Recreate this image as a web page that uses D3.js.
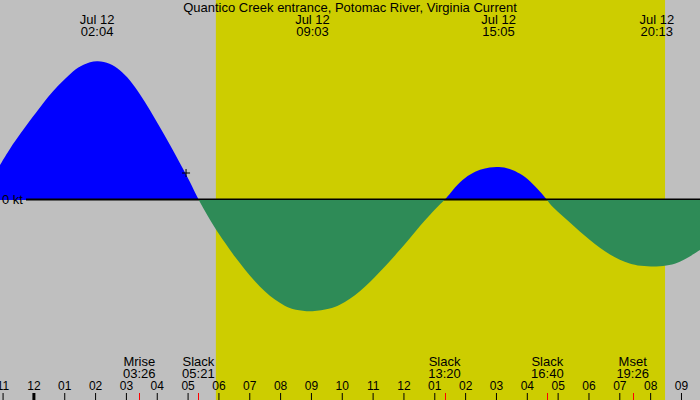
<!DOCTYPE html>
<html>
<head>
<meta charset="utf-8">
<script src="https://cdn.jsdelivr.net/npm/d3@7"></script>
<style>
  body { margin: 0; background: #fff; }
  svg text { font-family: "Liberation Sans", Arial, sans-serif; font-size: 13px; fill: #000; }
</style>
</head>
<body>
<div class="canvas"></div>
<script>
const dims = { width: 700, height: 400 };

const title = "Quantico Creek entrance, Potomac River, Virginia Current";

// window of the graph
const startTime = "07-11 22:55";
const endTime = "07-12 21:37";
const sunrise = "07-12 05:55";
const sunset = "07-12 20:29";

// current speed (kt, + flood / - ebb)
const times = [
  "07-11 22:55", "07-11 23:15", "07-11 23:34", "07-12 00:00", "07-12 00:19", "07-12 00:38",
  "07-12 00:58", "07-12 01:17", "07-12 01:36", "07-12 02:04", "07-12 02:29", "07-12 02:48",
  "07-12 03:08", "07-12 03:27", "07-12 03:47", "07-12 04:06", "07-12 04:26", "07-12 04:45",
  "07-12 05:05", "07-12 05:21", "07-12 05:53", "07-12 06:13", "07-12 06:32", "07-12 06:52",
  "07-12 07:11", "07-12 07:30", "07-12 07:50", "07-12 08:09", "07-12 08:28", "07-12 09:03",
  "07-12 09:37", "07-12 09:56", "07-12 10:16", "07-12 10:35", "07-12 10:55", "07-12 11:14",
  "07-12 11:34", "07-12 11:53", "07-12 12:13", "07-12 12:32", "07-12 12:52", "07-12 13:11",
  "07-12 13:20", "07-12 13:31", "07-12 13:50", "07-12 14:10", "07-12 14:29", "07-12 14:48",
  "07-12 15:05", "07-12 15:27", "07-12 15:47", "07-12 16:06", "07-12 16:26", "07-12 16:40",
  "07-12 16:45", "07-12 17:04", "07-12 17:24", "07-12 17:43", "07-12 18:03", "07-12 18:22",
  "07-12 18:42", "07-12 19:01", "07-12 19:20", "07-12 19:40", "07-12 20:13", "07-12 20:38",
  "07-12 20:58", "07-12 21:17", "07-12 21:37"
];
const speeds = [
  0.175, 0.26, 0.33, 0.42, 0.485, 0.545,
  0.597, 0.645, 0.678, 0.70, 0.683, 0.652,
  0.60, 0.53, 0.45, 0.365, 0.275, 0.185,
  0.09, 0, -0.141, -0.215, -0.285, -0.35,
  -0.408, -0.458, -0.50, -0.53, -0.55, -0.56,
  -0.545, -0.525, -0.495, -0.458, -0.41, -0.36,
  -0.305, -0.25, -0.19, -0.13, -0.073, -0.022,
  0, 0.034, 0.092, 0.13, 0.153, 0.164,
  0.167, 0.158, 0.133, 0.097, 0.042, 0,
  -0.022, -0.067, -0.112, -0.158, -0.20, -0.24,
  -0.273, -0.30, -0.318, -0.33, -0.335, -0.327,
  -0.31, -0.283, -0.25
];

// max flood / max ebb labels on top
const peakTimes = ["07-12 02:04", "07-12 09:03", "07-12 15:05", "07-12 20:13"];
const peakDates = ["Jul 12", "Jul 12", "Jul 12", "Jul 12"];
const peakClock = ["02:04", "09:03", "15:05", "20:13"];

// events along the bottom
const eventTimes = ["07-12 03:26", "07-12 05:21", "07-12 13:20", "07-12 16:40", "07-12 19:26"];
const eventNames = ["Mrise", "Slack", "Slack", "Slack", "Mset"];
const eventClock = ["03:26", "05:21", "13:20", "16:40", "19:26"];

// current time cursor
const nowTime = "07-12 04:57";
const nowSpeed = 0.135;

const parse = d3.timeParse("%m-%d %H:%M");
const data = times.map((t, i) => ({ t: parse(t), v: speeds[i] }));

const svg = d3
  .select(".canvas")
  .append("svg")
  .attr("width", dims.width)
  .attr("height", dims.height);

const x = d3.scaleTime().domain([parse(startTime), parse(endTime)]).range([0, dims.width]);
const y = d3.scaleLinear().domain([-1, 1]).range([dims.height, 0]);

// clip regions above / below zero
const defs = svg.append("defs");
defs
  .append("clipPath")
  .attr("id", "above")
  .append("rect")
  .attr("width", dims.width)
  .attr("height", y(0));
defs
  .append("clipPath")
  .attr("id", "below")
  .append("rect")
  .attr("y", y(0))
  .attr("width", dims.width)
  .attr("height", dims.height - y(0));

// night / day background
svg.append("rect").attr("width", dims.width).attr("height", dims.height).attr("fill", "#bfbfbf");
svg
  .append("rect")
  .attr("x", x(parse(sunrise)))
  .attr("width", x(parse(sunset)) - x(parse(sunrise)))
  .attr("height", dims.height)
  .attr("fill", "#cdcd00");

// one area, clipped to flood (blue) and ebb (green)
const area = d3
  .area()
  .x((d) => x(d.t))
  .y0(y(0))
  .y1((d) => y(d.v))
  .curve(d3.curveBasis);

svg.append("path").datum(data).attr("d", area).attr("fill", "#0000ff").attr("clip-path", "url(#above)");

// zero line, the ebb fill covers it
svg
  .append("line")
  .attr("x1", 26)
  .attr("x2", dims.width)
  .attr("y1", y(0) - 0.5)
  .attr("y2", y(0) - 0.5)
  .attr("stroke", "#000")
  .attr("stroke-width", 2);

svg.append("path").datum(data).attr("d", area).attr("fill", "#2e8b57").attr("clip-path", "url(#below)");

svg.append("text").attr("x", 2).attr("y", y(0) + 4).text("0 kt");

// cursor
const cx = x(parse(nowTime));
const cy = y(nowSpeed);
svg
  .append("path")
  .attr("d", `M${cx - 4},${cy}H${cx + 4}M${cx},${cy - 4}V${cy + 4}`)
  .attr("stroke", "#000")
  .attr("fill", "none");

// title and peak labels
svg.append("text").attr("x", dims.width / 2).attr("y", 12).attr("text-anchor", "middle").text(title);

const peaks = svg
  .selectAll(".peak")
  .data(peakTimes)
  .enter()
  .append("text")
  .attr("class", "peak")
  .attr("text-anchor", "middle");
peaks.append("tspan").attr("y", 24).attr("x", (d) => x(parse(d))).text((d, i) => peakDates[i]);
peaks.append("tspan").attr("y", 36).attr("x", (d) => x(parse(d))).text((d, i) => peakClock[i]);

// bottom events
const events = svg
  .selectAll(".event")
  .data(eventTimes)
  .enter()
  .append("text")
  .attr("class", "event")
  .attr("text-anchor", "middle");
events.append("tspan").attr("y", 366).attr("x", (d) => x(parse(d))).text((d, i) => eventNames[i]);
events.append("tspan").attr("y", 378).attr("x", (d) => x(parse(d))).text((d, i) => eventClock[i]);

// hour axis
const axis = d3
  .axisTop(x)
  .ticks(d3.timeHour.every(1))
  .tickFormat(d3.timeFormat("%I"))
  .tickSize(7)
  .tickPadding(3);

const axisG = svg.append("g").attr("transform", `translate(0, ${dims.height})`).call(axis);
axisG.select(".domain").remove();
axisG.selectAll("text").attr("font-size", null).attr("font-family", null).style("font-size", "12px");
axisG
  .selectAll(".tick")
  .filter((d) => d.getHours() === 0)
  .select("line")
  .attr("stroke-width", 3);

// red event ticks
svg
  .selectAll(".evtick")
  .data(eventTimes)
  .enter()
  .append("line")
  .attr("x1", (d) => Math.round(x(parse(d))) + 0.5)
  .attr("x2", (d) => Math.round(x(parse(d))) + 0.5)
  .attr("y1", dims.height - 7)
  .attr("y2", dims.height)
  .attr("stroke", "#ff0000");
</script>
</body>
</html>
